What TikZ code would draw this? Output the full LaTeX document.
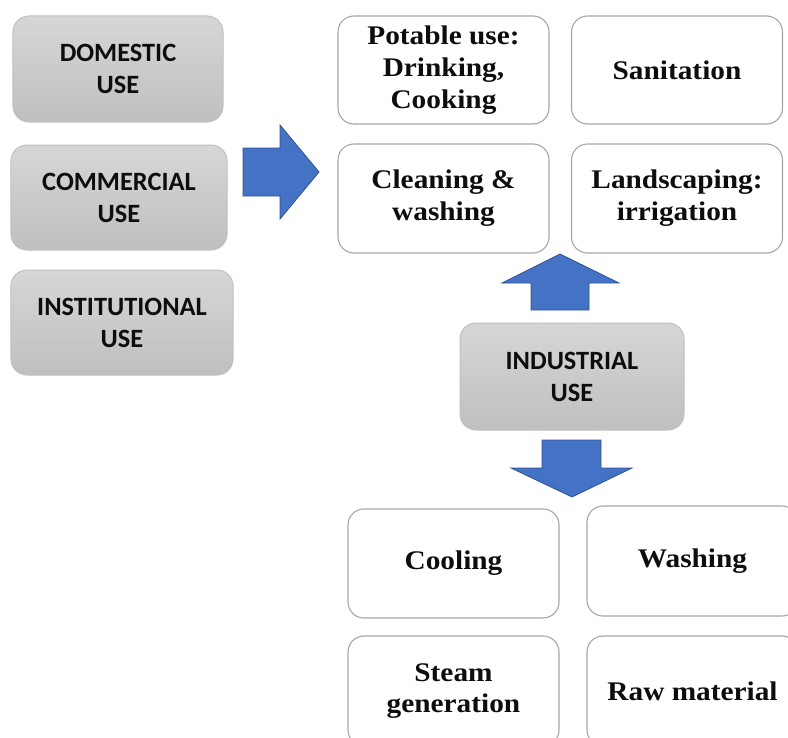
\documentclass[tikz,border=0pt]{standalone}
\usepackage{fontspec}
\setmainfont[FakeStretch=1.09]{Liberation Serif}
\newfontfamily\labelsans{Carlito}
\definecolor{arrowfill}{RGB}{68,114,196}
\definecolor{arrowedge}{RGB}{47,82,143}
\begin{document}
\begin{tikzpicture}[x=1bp,y=-1bp,
  usebox/.style={rounded corners=16bp, draw=black!25, line width=1bp,
    top color=black!16, bottom color=black!25, align=center,
    font=\labelsans\bfseries\fontsize{26.5}{32}\selectfont, text=black!95,
    inner sep=0pt},
  itembox/.style={rounded corners=16bp, draw=black!35, line width=1.1bp,
    fill=white, align=center, minimum width=211bp, minimum height=108bp,
    font=\bfseries\fontsize{27}{32}\selectfont, text=black!95,
    inner sep=0pt},
  blockarrow/.style={fill=arrowfill, draw=arrowedge, line width=0.8bp,
    line join=miter}
]
\useasboundingbox (0,0) rectangle (788,738);
\clip (0,0) rectangle (788,738);

% source categories
\node[usebox, minimum width=210bp, minimum height=106bp] (dom) at (118,69) {DOMESTIC\\USE};
\node[usebox, minimum width=216bp, minimum height=105bp] (com) at (119,197.5) {COMMERCIAL\\USE};
\node[usebox, minimum width=222bp, minimum height=105bp] (ins) at (122,322.5) {INSTITUTIONAL\\USE};
\node[usebox, minimum width=224bp, minimum height=107bp] (ind) at (572,376.5) {INDUSTRIAL\\USE};

% end uses
\node[itembox] (pot) at (443.5,70) {Potable use:\\Drinking,\\Cooking};
\node[itembox] (san) at (677,70) {Sanitation};
\node[itembox, minimum height=109bp] (cln) at (443.5,198.5) {Cleaning \&\\washing};
\node[itembox, minimum height=109bp] (lnd) at (677,198.5) {Landscaping:\\irrigation};

\node[itembox, minimum height=109bp] (cool) at (453.5,563.5) {Cooling};
\node[itembox, minimum height=110bp] (wash) at (692.5,561) {Washing};
\node[itembox, minimum height=110bp] (stm) at (453.5,691) {Steam\\generation};
\node[itembox, minimum height=110bp] (raw) at (692.5,691) {Raw material};

% block arrows
\draw[blockarrow] (243,148) -- (280,148) -- (280,125) -- (319,172) -- (280,219)
  -- (280,196) -- (243,196) -- cycle;
\draw[blockarrow] (531,310) -- (531,283) -- (502,283) -- (560,254) -- (619,283)
  -- (589,283) -- (589,310) -- cycle;
\draw[blockarrow] (542,440) -- (601,440) -- (601,468) -- (632,468) -- (572,497)
  -- (511,468) -- (542,468) -- cycle;
\end{tikzpicture}
\end{document}
